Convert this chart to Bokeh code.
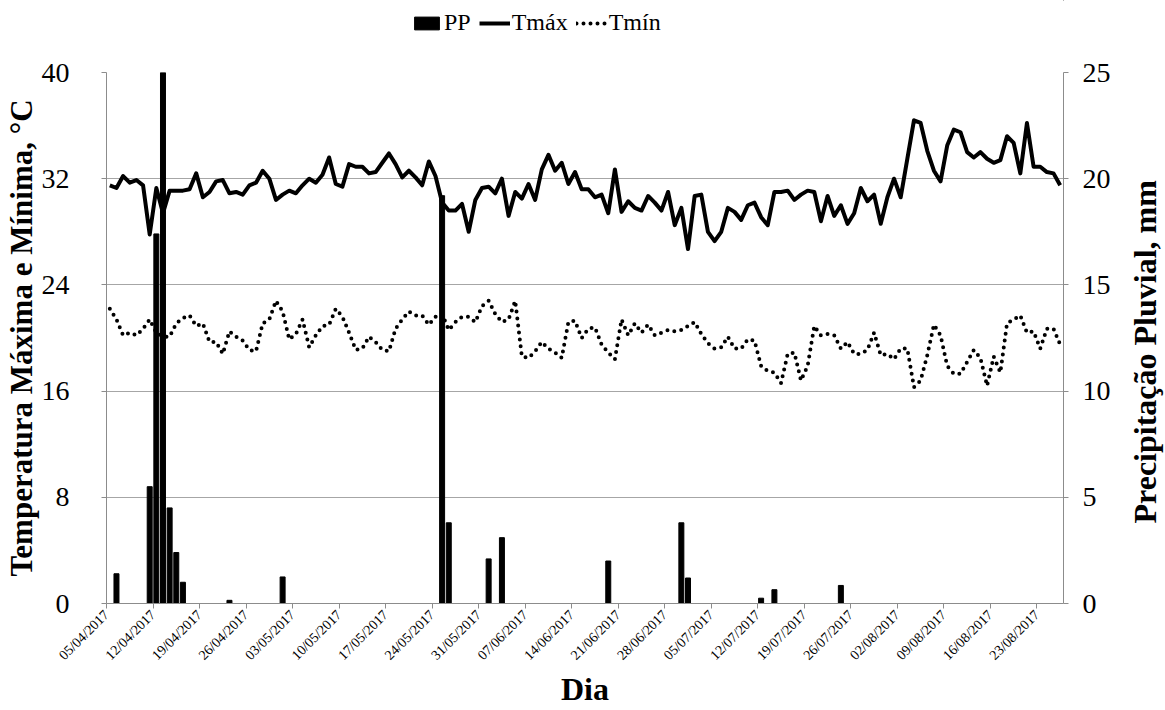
import math
from bokeh.plotting import figure
from bokeh.layouts import gridplot
from bokeh.models import Range1d, LinearAxis, FixedTicker, Legend, LegendItem, ColumnDataSource, Label
from bokeh.embed import file_html
from bokeh.resources import INLINE

# ---- data ----
tick_labels = ["05/04/2017", "12/04/2017", "19/04/2017", "26/04/2017", "03/05/2017",
               "10/05/2017", "17/05/2017", "24/05/2017", "31/05/2017", "07/06/2017",
               "14/06/2017", "21/06/2017", "28/06/2017", "05/07/2017", "12/07/2017",
               "19/07/2017", "26/07/2017", "02/08/2017", "09/08/2017", "16/08/2017",
               "23/08/2017"]

tmax = [31.5, 31.3, 32.2, 31.7, 31.9, 31.5, 27.8, 31.3, 29.4, 31.1, 31.1, 31.1,
        31.2, 32.4, 30.6, 31.0, 31.8, 31.9, 30.9, 31.0, 30.8, 31.5, 31.7, 32.6,
        32.0, 30.4, 30.8, 31.1, 30.9, 31.5, 32.0, 31.7, 32.3, 33.6, 31.6, 31.4,
        33.1, 32.9, 32.9, 32.4, 32.5, 33.2, 33.9, 33.1, 32.1, 32.6, 32.1, 31.5,
        33.3, 32.2, 30.2, 29.6, 29.6, 30.1, 28.0, 30.4, 31.3, 31.4, 30.9, 32.0,
        29.2, 31.0, 30.5, 31.6, 30.4, 32.7, 33.8, 32.6, 33.2, 31.6, 32.5, 31.2,
        31.2, 30.6, 30.8, 29.4, 32.7, 29.5, 30.3, 29.8, 29.6, 30.7, 30.2, 29.6,
        31.0, 28.5, 29.8, 26.7, 30.7, 30.8, 28.0, 27.3, 28.0, 29.8, 29.5, 28.9,
        30.0, 30.2, 29.1, 28.5, 31.0, 31.0, 31.1, 30.4, 30.8, 31.1, 31.0, 28.8,
        30.7, 29.2, 30.0, 28.6, 29.4, 31.3, 30.3, 30.8, 28.6, 30.6, 32.0, 30.6,
        33.5, 36.4, 36.2, 34.1, 32.6, 31.8, 34.5, 35.7, 35.5, 34.0, 33.6, 34.0,
        33.5, 33.2, 33.4, 35.2, 34.7, 32.4, 36.2, 32.9, 32.9, 32.5, 32.4, 31.5]

tmin = [22.2, 21.4, 20.2, 20.4, 20.2, 20.7, 21.4, 20.4, 20.1, 20.1, 21.1, 21.5,
        21.7, 20.9, 21.1, 19.7, 19.7, 18.8, 20.5, 20.1, 19.8, 19.1, 19.0, 21.1,
        21.4, 22.8, 22.0, 19.9, 20.3, 21.4, 19.3, 20.2, 20.9, 21.0, 22.2, 21.6,
        20.4, 19.1, 19.2, 20.1, 19.7, 19.1, 19.0, 20.7, 21.4, 22.0, 21.7, 21.7,
        21.0, 21.6, 21.8, 20.6, 21.2, 21.6, 21.6, 21.2, 22.4, 22.8, 21.8, 21.2,
        21.4, 22.8, 18.6, 18.5, 19.0, 19.7, 19.2, 18.9, 18.5, 21.2, 21.3, 20.0,
        20.7, 20.8, 19.5, 18.9, 18.4, 21.4, 20.2, 21.1, 20.4, 21.0, 20.2, 20.4,
        20.6, 20.5, 20.6, 20.9, 21.2, 20.3, 19.6, 19.2, 19.3, 20.1, 19.2, 19.2,
        19.9, 19.8, 17.9, 17.5, 17.4, 16.6, 18.8, 18.9, 16.8, 17.9, 20.9, 20.2,
        20.3, 20.2, 19.2, 19.7, 18.8, 18.8, 19.1, 20.4, 18.7, 18.8, 18.4, 19.2,
        19.2, 16.3, 16.8, 18.7, 21.0, 20.2, 17.9, 17.3, 17.3, 18.2, 19.1, 18.5,
        16.4, 18.6, 17.4, 21.1, 21.4, 21.7, 20.4, 20.5, 19.2, 20.7, 20.7, 19.5]

pp_day = [1, 6, 7, 8, 9, 10, 11, 18, 26, 50, 51, 57, 59, 75, 86, 87, 98, 100, 110]
pp_mm = [1.4, 5.5, 17.4, 25.0, 4.5, 2.4, 1.0, 0.15, 1.25, 19.2, 3.8, 2.1, 3.1,
         2.0, 3.8, 1.2, 0.25, 0.65, 0.85]

series_names = ["PP", "Tmáx", "Tmín"]
right_title = "Precipitação Pluvial, mm"

# ---- sources ----
days = list(range(len(tmax)))
temp_src = ColumnDataSource(dict(x=[d + 0.5 for d in days], tmax=tmax, tmin=tmin))
pp_src = ColumnDataSource(dict(x=[d + 0.5 for d in pp_day], pp=pp_mm))

SERIF = "Liberation Serif"
GRID = "#a6a6a6"
AX = "#8c8c8c"
LEG_H = 44
RT_W = 52
MAIN_W = 1165 - RT_W

# ---- main chart ----
p = figure(width=MAIN_W, height=710 - LEG_H, output_backend="svg", toolbar_location=None,
           x_range=Range1d(0, len(tmax)), y_range=Range1d(0, 40),
           min_border_left=103, min_border_right=MAIN_W - 103 - 962,
           min_border_top=72 - LEG_H, min_border_bottom=99)
p.extra_y_ranges = {"pp": Range1d(0, 25)}
p.outline_line_color = None
p.background_fill_color = "white"
p.border_fill_color = "white"

bars = p.vbar(x="x", top="pp", width=0.75, bottom=0, source=pp_src,
              y_range_name="pp", fill_color="black", line_color="black")
lmax = p.line(x="x", y="tmax", source=temp_src, line_color="black", line_width=4,
              line_join="round")
lmin = p.line(x="x", y="tmin", source=temp_src, line_color="black", line_width=4,
              line_dash="0 7", line_cap="round")

# x axis
xa = p.xaxis[0]
xa.ticker = FixedTicker(ticks=[7 * i for i in range(len(tick_labels))])
xa.major_label_overrides = {7 * i: lbl for i, lbl in enumerate(tick_labels)}
xa.major_label_orientation = math.pi / 4
xa.major_label_text_font = SERIF
xa.major_label_text_font_size = "14px"
xa.major_label_text_color = "black"
xa.major_label_standoff = 4
xa.axis_line_color = AX
xa.major_tick_line_color = AX
xa.major_tick_out = 5
xa.major_tick_in = 0
xa.minor_tick_line_color = None
xa.axis_label = "Dia"
xa.axis_label_text_font = SERIF
xa.axis_label_text_font_style = "bold"
xa.axis_label_text_font_size = "32px"
xa.axis_label_text_color = "black"
xa.axis_label_standoff = 0

# left axis
ya = p.yaxis[0]
ya.ticker = FixedTicker(ticks=[0, 8, 16, 24, 32, 40])
ya.major_label_text_font = SERIF
ya.major_label_text_font_size = "28px"
ya.major_label_text_color = "black"
ya.major_label_standoff = 32
ya.axis_line_color = AX
ya.major_tick_line_color = AX
ya.major_tick_out = 5
ya.major_tick_in = 0
ya.minor_tick_line_color = None
ya.axis_label = "Temperatura Máxima e Mínima, °C"
ya.axis_label_text_font = SERIF
ya.axis_label_text_font_style = "bold"
ya.axis_label_text_font_size = "31px"
ya.axis_label_text_color = "black"
ya.axis_label_standoff = 0

# right axis (ticks and labels; its title is drawn in the strip to the right)
ra = LinearAxis(y_range_name="pp", ticker=FixedTicker(ticks=[0, 5, 10, 15, 20, 25]))
ra.major_label_text_font = SERIF
ra.major_label_text_font_size = "28px"
ra.major_label_text_color = "black"
ra.major_label_standoff = 14
ra.axis_line_color = AX
ra.major_tick_line_color = AX
ra.major_tick_out = 5
ra.major_tick_in = 0
ra.minor_tick_line_color = None
p.add_layout(ra, "right")

# grid
p.xgrid.grid_line_color = None
p.ygrid.grid_line_color = GRID
p.ygrid.grid_line_width = 1
p.ygrid.ticker = FixedTicker(ticks=[0, 8, 16, 24, 32, 40])

# ---- legend strip above the chart ----
lg = figure(width=MAIN_W, height=LEG_H, output_backend="svg", toolbar_location=None,
            x_range=Range1d(0, 1), y_range=Range1d(0, 1),
            x_axis_type=None, y_axis_type=None, min_border=0)
lg.outline_line_color = None
lg.xgrid.visible = False
lg.ygrid.visible = False
# off-range samples so the legend can draw each glyph
g_pp = lg.vbar(x=[5], top=[6], bottom=[5], width=0.1, fill_color="black", line_color="black")
g_max = lg.line(x=[5, 6], y=[5, 5], line_color="black", line_width=4)
g_min = lg.line(x=[5, 6], y=[5, 5], line_color="black", line_width=4, line_dash="0 7",
                line_cap="round")
legend = Legend(items=[LegendItem(label=series_names[0], renderers=[g_pp]),
                       LegendItem(label=series_names[1], renderers=[g_max]),
                       LegendItem(label=series_names[2], renderers=[g_min])],
                orientation="horizontal", location=(305, 8),
                label_text_font=SERIF, label_text_font_size="24px",
                label_text_color="black", glyph_width=31, glyph_height=16,
                spacing=8, label_standoff=2, padding=2, margin=0,
                border_line_color=None, background_fill_alpha=0)
lg.add_layout(legend)

# ---- strip on the right holding the right-axis title (reads bottom to top) ----
rf = figure(width=RT_W, height=710 - LEG_H, output_backend="svg", toolbar_location=None,
            x_range=Range1d(0, 1), y_range=Range1d(0, 1),
            x_axis_type=None, y_axis_type=None, min_border=0)
rf.outline_line_color = None
rf.xgrid.visible = False
rf.ygrid.visible = False
rf.add_layout(Label(x=0.6, y=0.474, text=right_title, angle=math.pi / 2,
                    text_font=SERIF, text_font_style="bold", text_font_size="32px",
                    text_color="black", text_align="center", text_baseline="middle"))

layout = gridplot([[lg, None], [p, rf]], toolbar_location=None)
open("out.html", "w").write(file_html(layout, INLINE))
